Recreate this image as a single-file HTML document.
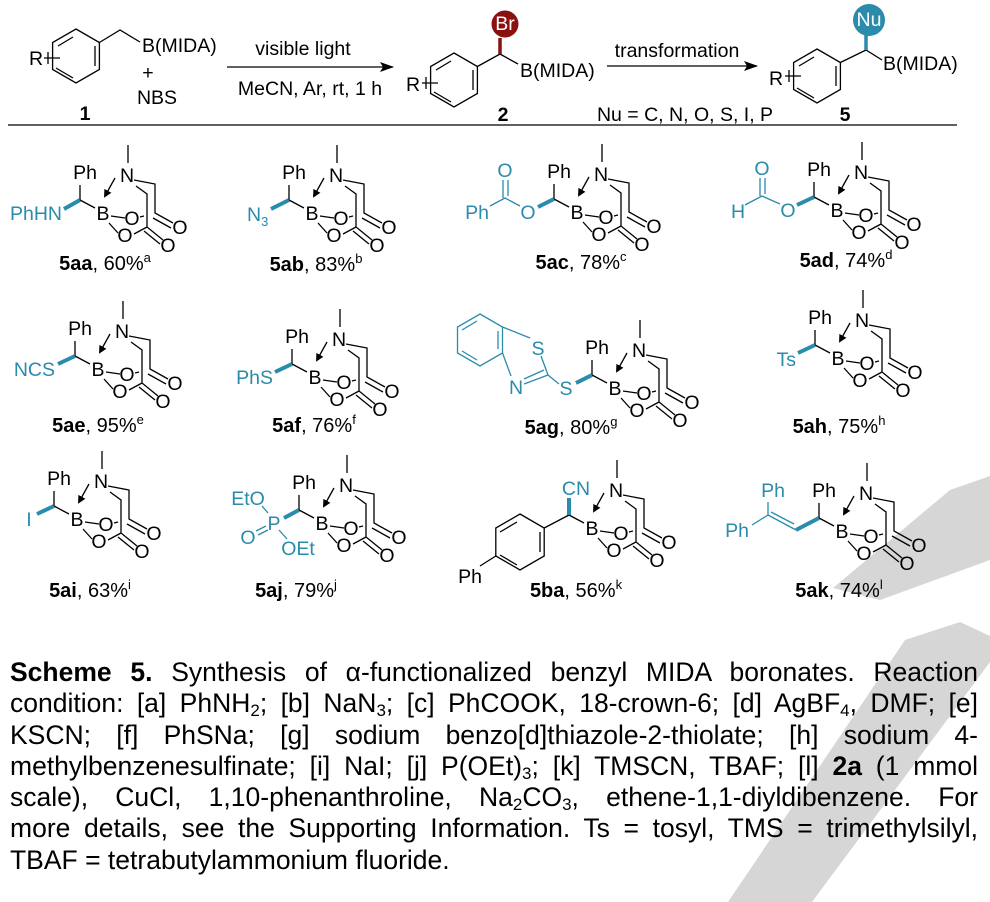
<!DOCTYPE html>
<html><head><meta charset="utf-8"><style>
html,body{margin:0;padding:0;background:#fff;}
#w{position:relative;width:990px;height:902px;overflow:hidden;}
svg{position:absolute;left:0;top:0;}
svg text{font-family:"Liberation Sans",sans-serif;font-size:19.5px;fill:#000;}
.k{stroke:#000;stroke-width:1.3;fill:none;}
.t{stroke:#2a8bab;stroke-width:1.3;fill:none;}
.w{stroke:#2a8bab;stroke-width:4;fill:none;}
svg text.c{fill:#2a8bab;}
svg text.m{text-anchor:middle;}
svg text.e{text-anchor:end;}
svg text.lb{font-size:20px;text-anchor:middle;}
#cap{position:absolute;left:10px;top:657px;width:968px;font-family:"Liberation Sans",sans-serif;font-size:26.5px;line-height:31.3px;color:#000;}
#cap div{text-align:justify;text-align-last:justify;white-space:nowrap;}
#cap div.last{text-align-last:left;}
#cap sub{font-size:17px;vertical-align:-4px;line-height:0;}
</style></head><body><div id="w">
<svg width="990" height="902" viewBox="0 0 990 902">
<defs><marker id="ah" markerWidth="8" markerHeight="8" refX="6" refY="4" orient="auto" markerUnits="userSpaceOnUse"><path d="M0,0L8,4L0,8z" fill="#000"/></marker>
<marker id="ah2" markerWidth="14" markerHeight="10" refX="13" refY="5" orient="auto" markerUnits="userSpaceOnUse"><path d="M0,0L14,5L0,10L3,5z" fill="#000"/></marker></defs>
<polygon points="950,490 990,476 990,560 880,600 833,588" fill="#d6d6d6"/>
<polygon points="905,640 960,622 990,636 990,662 812,902 728,902" fill="#d6d6d6"/>

<!-- header -->
<polygon points="76,29 99.4,42.5 99.4,69.5 76,83 52.6,69.5 52.6,42.5" class="k"/>
<path d="M95,46 V66 M73,78 L56,68 M58,46 L73,37" class="k" stroke-width="1.1"/>
<path d="M99.4,42.5 L120,30 L140,42 M44,58 H60 M48,52 V64" class="k"/>
<text x="36" y="65" class="m">R</text>
<text x="142" y="52">B(MIDA)</text>
<text x="148" y="79" class="m">+</text>
<text x="157" y="104" class="m">NBS</text>
<text x="85" y="120" class="m" font-weight="bold">1</text>
<path d="M227,67 H393" class="k" stroke-width="1.6" marker-end="url(#ah2)"/>
<text x="303" y="55" class="m" font-size="17.6">visible light</text>
<text x="310" y="95" class="m" font-size="17.6">MeCN, Ar, rt, 1 h</text>

<polygon points="454,53 477.4,66.5 477.4,93.5 454,107 430.6,93.5 430.6,66.5" class="k"/>
<path d="M473,70 V90 M451,102 L434,92 M436,70 L451,61 M422,83 H438 M426,77 V89" class="k"/>
<text x="413" y="91" class="m">R</text>
<path d="M477.4,66.5 L500,54 L518,64" class="k"/>
<path d="M500,54 V38" stroke="#8b1010" stroke-width="3.5"/>
<circle cx="505" cy="24" r="13.5" fill="#8b1010"/>
<text x="505" y="30" class="m" font-size="16" style="fill:#fff">Br</text>
<text x="520" y="77">B(MIDA)</text>
<text x="503" y="121" class="m" font-weight="bold">2</text>
<path d="M607,66 H757" class="k" stroke-width="1.6" marker-end="url(#ah2)"/>
<text x="677" y="57" class="m" font-size="17.6">transformation</text>
<text x="685" y="121" class="m" font-size="18">Nu = C, N, O, S, I, P</text>

<polygon points="817,49 840.4,62.5 840.4,89.5 817,103 793.6,89.5 793.6,62.5" class="k"/>
<path d="M836,66 V86 M814,98 L797,88 M799,66 L814,57 M785,76 H801 M789,70 V82" class="k"/>
<text x="776" y="85" class="m">R</text>
<path d="M840.4,62.5 L866,50 L882,60" class="k"/>
<path d="M866,50 V34" stroke="#2a8bab" stroke-width="3.5"/>
<circle cx="869" cy="20" r="16" fill="#2a8bab"/>
<text x="869" y="26" class="m" font-size="17" style="fill:#fff">Nu</text>
<text x="883" y="70">B(MIDA)</text>
<text x="845" y="121" class="m" font-weight="bold">5</text>
<path d="M8,125 H957" class="k" stroke-width="1.4"/>

<!-- MIDA template copies -->
<g transform="translate(103,213)"><path d="M25,-68V-50 M31,-33L52,-29V0L70,10 M50,5L68,15 M33,-27L44,-19V14L60,27 M41,18L57,31 M44,14L31,21 M8,3L22,5 M6,10L15,20 M37,4L41,3 M-23,-13L-8,-5 M-23,-13V-28" class="k"/><path d="M12,-35L2,-17" class="k" marker-end="url(#ah)"/><text x="0" y="7" class="m">B</text><text x="24" y="-31" class="m">N</text><text x="29" y="12" class="m">O</text><text x="22" y="29" class="m">O</text><text x="77" y="21" class="m">O</text><text x="65" y="39" class="m">O</text><text x="-18" y="-34" class="m">Ph</text></g>
<g transform="translate(312,213)"><path d="M25,-68V-50 M31,-33L52,-29V0L70,10 M50,5L68,15 M33,-27L44,-19V14L60,27 M41,18L57,31 M44,14L31,21 M8,3L22,5 M6,10L15,20 M37,4L41,3 M-23,-13L-8,-5 M-23,-13V-28" class="k"/><path d="M12,-35L2,-17" class="k" marker-end="url(#ah)"/><text x="0" y="7" class="m">B</text><text x="24" y="-31" class="m">N</text><text x="29" y="12" class="m">O</text><text x="22" y="29" class="m">O</text><text x="77" y="21" class="m">O</text><text x="65" y="39" class="m">O</text><text x="-18" y="-34" class="m">Ph</text></g>
<g transform="translate(577,212)"><path d="M25,-68V-50 M31,-33L52,-29V0L70,10 M50,5L68,15 M33,-27L44,-19V14L60,27 M41,18L57,31 M44,14L31,21 M8,3L22,5 M6,10L15,20 M37,4L41,3 M-23,-13L-8,-5 M-23,-13V-28" class="k"/><path d="M12,-35L2,-17" class="k" marker-end="url(#ah)"/><text x="0" y="7" class="m">B</text><text x="24" y="-31" class="m">N</text><text x="29" y="12" class="m">O</text><text x="22" y="29" class="m">O</text><text x="77" y="21" class="m">O</text><text x="65" y="39" class="m">O</text><text x="-18" y="-34" class="m">Ph</text></g>
<g transform="translate(837,210)"><path d="M25,-68V-50 M31,-33L52,-29V0L70,10 M50,5L68,15 M33,-27L44,-19V14L60,27 M41,18L57,31 M44,14L31,21 M8,3L22,5 M6,10L15,20 M37,4L41,3 M-23,-13L-8,-5 M-23,-13V-28" class="k"/><path d="M12,-35L2,-17" class="k" marker-end="url(#ah)"/><text x="0" y="7" class="m">B</text><text x="24" y="-31" class="m">N</text><text x="29" y="12" class="m">O</text><text x="22" y="29" class="m">O</text><text x="77" y="21" class="m">O</text><text x="65" y="39" class="m">O</text><text x="-18" y="-34" class="m">Ph</text></g>
<g transform="translate(98,369)"><path d="M25,-68V-50 M31,-33L52,-29V0L70,10 M50,5L68,15 M33,-27L44,-19V14L60,27 M41,18L57,31 M44,14L31,21 M8,3L22,5 M6,10L15,20 M37,4L41,3 M-23,-13L-8,-5 M-23,-13V-28" class="k"/><path d="M12,-35L2,-17" class="k" marker-end="url(#ah)"/><text x="0" y="7" class="m">B</text><text x="24" y="-31" class="m">N</text><text x="29" y="12" class="m">O</text><text x="22" y="29" class="m">O</text><text x="77" y="21" class="m">O</text><text x="65" y="39" class="m">O</text><text x="-18" y="-34" class="m">Ph</text></g>
<g transform="translate(315,377)"><path d="M25,-68V-50 M31,-33L52,-29V0L70,10 M50,5L68,15 M33,-27L44,-19V14L60,27 M41,18L57,31 M44,14L31,21 M8,3L22,5 M6,10L15,20 M37,4L41,3 M-23,-13L-8,-5 M-23,-13V-28" class="k"/><path d="M12,-35L2,-17" class="k" marker-end="url(#ah)"/><text x="0" y="7" class="m">B</text><text x="24" y="-31" class="m">N</text><text x="29" y="12" class="m">O</text><text x="22" y="29" class="m">O</text><text x="77" y="21" class="m">O</text><text x="65" y="39" class="m">O</text><text x="-18" y="-34" class="m">Ph</text></g>
<g transform="translate(615,388)"><path d="M25,-68V-50 M31,-33L52,-29V0L70,10 M50,5L68,15 M33,-27L44,-19V14L60,27 M41,18L57,31 M44,14L31,21 M8,3L22,5 M6,10L15,20 M37,4L41,3 M-23,-13L-8,-5 M-23,-13V-28" class="k"/><path d="M12,-35L2,-17" class="k" marker-end="url(#ah)"/><text x="0" y="7" class="m">B</text><text x="24" y="-31" class="m">N</text><text x="29" y="12" class="m">O</text><text x="22" y="29" class="m">O</text><text x="77" y="21" class="m">O</text><text x="65" y="39" class="m">O</text><text x="-18" y="-34" class="m">Ph</text></g>
<g transform="translate(838,358)"><path d="M25,-68V-50 M31,-33L52,-29V0L70,10 M50,5L68,15 M33,-27L44,-19V14L60,27 M41,18L57,31 M44,14L31,21 M8,3L22,5 M6,10L15,20 M37,4L41,3 M-23,-13L-8,-5 M-23,-13V-28" class="k"/><path d="M12,-35L2,-17" class="k" marker-end="url(#ah)"/><text x="0" y="7" class="m">B</text><text x="24" y="-31" class="m">N</text><text x="29" y="12" class="m">O</text><text x="22" y="29" class="m">O</text><text x="77" y="21" class="m">O</text><text x="65" y="39" class="m">O</text><text x="-18" y="-34" class="m">Ph</text></g>
<g transform="translate(77,519)"><path d="M25,-68V-50 M31,-33L52,-29V0L70,10 M50,5L68,15 M33,-27L44,-19V14L60,27 M41,18L57,31 M44,14L31,21 M8,3L22,5 M6,10L15,20 M37,4L41,3 M-23,-13L-8,-5 M-23,-13V-28" class="k"/><path d="M12,-35L2,-17" class="k" marker-end="url(#ah)"/><text x="0" y="7" class="m">B</text><text x="24" y="-31" class="m">N</text><text x="29" y="12" class="m">O</text><text x="22" y="29" class="m">O</text><text x="77" y="21" class="m">O</text><text x="65" y="39" class="m">O</text><text x="-18" y="-34" class="m">Ph</text></g>
<g transform="translate(322,523)"><path d="M25,-68V-50 M31,-33L52,-29V0L70,10 M50,5L68,15 M33,-27L44,-19V14L60,27 M41,18L57,31 M44,14L31,21 M8,3L22,5 M6,10L15,20 M37,4L41,3 M-23,-13L-8,-5 M-23,-13V-28" class="k"/><path d="M12,-35L2,-17" class="k" marker-end="url(#ah)"/><text x="0" y="7" class="m">B</text><text x="24" y="-31" class="m">N</text><text x="29" y="12" class="m">O</text><text x="22" y="29" class="m">O</text><text x="77" y="21" class="m">O</text><text x="65" y="39" class="m">O</text><text x="-18" y="-34" class="m">Ph</text></g>
<g transform="translate(592,528)"><path d="M25,-68V-50 M31,-33L52,-29V0L70,10 M50,5L68,15 M33,-27L44,-19V14L60,27 M41,18L57,31 M44,14L31,21 M8,3L22,5 M6,10L15,20 M37,4L41,3 M-23,-13L-8,-5" class="k"/><path d="M12,-35L2,-17" class="k" marker-end="url(#ah)"/><text x="0" y="7" class="m">B</text><text x="24" y="-31" class="m">N</text><text x="29" y="12" class="m">O</text><text x="22" y="29" class="m">O</text><text x="77" y="21" class="m">O</text><text x="65" y="39" class="m">O</text></g>
<g transform="translate(842,531)"><path d="M25,-68V-50 M31,-33L52,-29V0L70,10 M50,5L68,15 M33,-27L44,-19V14L60,27 M41,18L57,31 M44,14L31,21 M8,3L22,5 M6,10L15,20 M37,4L41,3 M-23,-13L-8,-5 M-23,-13V-28" class="k"/><path d="M12,-35L2,-17" class="k" marker-end="url(#ah)"/><text x="0" y="7" class="m">B</text><text x="24" y="-31" class="m">N</text><text x="29" y="12" class="m">O</text><text x="22" y="29" class="m">O</text><text x="77" y="21" class="m">O</text><text x="65" y="39" class="m">O</text><text x="-18" y="-34" class="m">Ph</text></g>

<!-- substituents -->
<path d="M80,200 L64,209" class="w"/><text x="62" y="220" class="e c">PhHN</text>
<path d="M289,200 L271,209" class="w"/><text x="247" y="221" class="c">N<tspan font-size="13" dy="5">3</tspan></text>
<path d="M554,199 L538,207" class="w"/><text x="528" y="219" class="m c">O</text>
<path d="M520,206 L505,198 L490,206 M503,198 V180 M508,196 V180" class="t"/><text x="505" y="177" class="m c">O</text><text x="489" y="219" class="e c">Ph</text>
<path d="M814,197 L797,205" class="w"/><text x="788" y="217" class="m c">O</text>
<path d="M780,204 L762,196 L745,205 M760,196 V178 M765,194 V178" class="t"/><text x="762" y="175" class="m c">O</text><text x="738" y="218" class="m c">H</text>
<path d="M75,356 L58,364" class="w"/><text x="55" y="376" class="e c">NCS</text>
<path d="M292,364 L275,372" class="w"/><text x="273" y="384" class="e c">PhS</text>
<path d="M592,375 L576,383" class="w"/><text x="566" y="395" class="m c">S</text>
<polygon points="480,314 502.5,327 502.5,353 480,366 457.5,353 457.5,327" class="t"/>
<path d="M498,331 V349 M477,360 L462,351 M462,330 L477,321 M502.5,327 L530,338 M502.5,353 L511,376 M541,356 L548,375 L524,384 M544,370 L524,379 M548,375 L559,384" class="t"/>
<text x="538" y="355" class="m c">S</text><text x="516" y="394" class="m c">N</text>
<path d="M815,345 L798,353" class="w"/><text x="796" y="366" class="e c">Ts</text>
<path d="M54,506 L37,514" class="w"/><text x="29" y="526" class="m c">I</text>
<path d="M299,510 L284,518" class="w"/><text x="274" y="530" class="m c">P</text>
<path d="M268,513 L262,506 M279,530 L287,539 M256,531 L266,526 M258,535 L268,530" class="t"/>
<text x="248" y="505" class="m c">EtO</text><text x="248" y="544" class="m c">O</text><text x="298" y="555" class="m c">OEt</text>
<polygon points="520,514 544.2,528 544.2,556 520,570 495.8,556 495.8,528" class="k"/>
<path d="M540,532 V552 M517,565 L500,555 M500,532 L517,522 M544.2,528 L569,515 M495.8,556 L480,566" class="k"/>
<path d="M569,515 V498" class="w"/><text x="576" y="495" class="m c">CN</text><text x="470" y="583" class="m">Ph</text>
<path d="M819,518 L796,530" class="w"/>
<path d="M796,530 L768,515 M794,524 L771,512 M768,515 V502 M768,515 L752,525" class="t"/>
<text x="773" y="497" class="m c">Ph</text><text x="737" y="537" class="m c">Ph</text>

<!-- labels -->
<text x="105" y="270" class="lb"><tspan font-weight="bold">5aa</tspan>, 60%<tspan font-size="13" dy="-8">a</tspan></text>
<text x="316" y="271" class="lb"><tspan font-weight="bold">5ab</tspan>, 83%<tspan font-size="13" dy="-8">b</tspan></text>
<text x="581" y="269" class="lb"><tspan font-weight="bold">5ac</tspan>, 78%<tspan font-size="13" dy="-8">c</tspan></text>
<text x="846" y="267" class="lb"><tspan font-weight="bold">5ad</tspan>, 74%<tspan font-size="13" dy="-8">d</tspan></text>
<text x="98" y="432" class="lb"><tspan font-weight="bold">5ae</tspan>, 95%<tspan font-size="13" dy="-8">e</tspan></text>
<text x="314" y="432" class="lb"><tspan font-weight="bold">5af</tspan>, 76%<tspan font-size="13" dy="-8">f</tspan></text>
<text x="571" y="434" class="lb"><tspan font-weight="bold">5ag</tspan>, 80%<tspan font-size="13" dy="-8">g</tspan></text>
<text x="839" y="433" class="lb"><tspan font-weight="bold">5ah</tspan>, 75%<tspan font-size="13" dy="-8">h</tspan></text>
<text x="90" y="597" class="lb"><tspan font-weight="bold">5ai</tspan>, 63%<tspan font-size="13" dy="-8">i</tspan></text>
<text x="296" y="597" class="lb"><tspan font-weight="bold">5aj</tspan>, 79%<tspan font-size="13" dy="-8">j</tspan></text>
<text x="576" y="597" class="lb"><tspan font-weight="bold">5ba</tspan>, 56%<tspan font-size="13" dy="-8">k</tspan></text>
<text x="839" y="597" class="lb"><tspan font-weight="bold">5ak</tspan>, 74%<tspan font-size="13" dy="-8">l</tspan></text>
</svg>
<div id="cap">
<div><b>Scheme 5.</b> Synthesis of α-functionalized benzyl MIDA boronates. Reaction</div>
<div>condition: [a] PhNH<sub>2</sub>; [b] NaN<sub>3</sub>; [c] PhCOOK, 18-crown-6; [d] AgBF<sub>4</sub>, DMF; [e]</div>
<div>KSCN; [f] PhSNa; [g] sodium benzo[d]thiazole-2-thiolate; [h] sodium 4-</div>
<div>methylbenzenesulfinate; [i] NaI; [j] P(OEt)<sub>3</sub>; [k] TMSCN, TBAF; [l] <b>2a</b> (1 mmol</div>
<div>scale), CuCl, 1,10-phenanthroline, Na<sub>2</sub>CO<sub>3</sub>, ethene-1,1-diyldibenzene. For</div>
<div>more details, see the Supporting Information. Ts = tosyl, TMS = trimethylsilyl,</div>
<div class="last">TBAF = tetrabutylammonium fluoride.</div>
</div>
</div></body></html>
